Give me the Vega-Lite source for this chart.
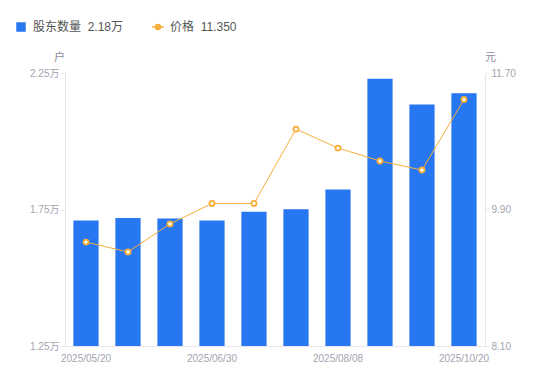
{
  "$schema": "https://vega.github.io/schema/vega-lite/v6.json",
  "width": 420,
  "height": 273,
  "autosize": {"type": "none"},
  "padding": {"left": 65, "top": 73, "right": 65, "bottom": 35},
  "background": "white",
  "config": {
    "view": {"stroke": null},
    "font": "Liberation Sans, Noto Sans CJK SC, sans-serif"
  },
  "data": {
    "values": [
      {"date": "2025/05/20", "holders": 1.710, "price": 9.47},
      {"date": "2025/05/31", "holders": 1.719, "price": 9.34},
      {"date": "2025/06/10", "holders": 1.717, "price": 9.71},
      {"date": "2025/06/30", "holders": 1.710, "price": 9.98},
      {"date": "2025/07/10", "holders": 1.742, "price": 9.98},
      {"date": "2025/07/31", "holders": 1.751, "price": 10.96},
      {"date": "2025/08/08", "holders": 1.823, "price": 10.71},
      {"date": "2025/08/31", "holders": 2.229, "price": 10.54},
      {"date": "2025/09/30", "holders": 2.135, "price": 10.42},
      {"date": "2025/10/20", "holders": 2.176, "price": 11.35}
    ]
  },
  "encoding": {
    "x": {
      "field": "date",
      "type": "ordinal",
      "sort": null,
      "scale": {"paddingInner": 0.4, "paddingOuter": 0.2},
      "axis": {
        "title": null,
        "labelAngle": 0,
        "values": ["2025/05/20", "2025/06/30", "2025/08/08", "2025/10/20"],
        "ticks": false,
        "labelPadding": 7,
        "labelFontSize": 10,
        "labelColor": "#A3A3B0",
        "domainColor": "#E6E6E6",
        "grid": false
      }
    }
  },
  "layer": [
    {
      "mark": {"type": "bar", "fill": "#2776F2", "clip": true},
      "encoding": {
        "y": {
          "field": "holders",
          "type": "quantitative",
          "scale": {"domain": [1.25, 2.25], "zero": false, "nice": false},
          "axis": {
            "orient": "left",
            "values": [1.25, 1.75, 2.25],
            "labelExpr": "format(datum.value, '.2f') + '万'",
            "labelFontSize": 10,
            "labelColor": "#A3A3B0",
            "labelPadding": 2,
            "tickSize": 4,
            "tickColor": "#E6E6E6",
            "domainColor": "#E6E6E6",
            "grid": false,
            "title": "户",
            "titleAngle": 0,
            "titleX": -6,
            "titleY": -16,
            "titleAlign": "center",
            "titleBaseline": "middle",
            "titleFontSize": 11,
            "titleFontWeight": "normal",
            "titleColor": "#8A8A96"
          }
        },
        "y2": {"datum": 1.25},
        "color": {
          "datum": "股东数量",
          "scale": {"domain": ["股东数量", "价格"], "range": ["#2776F2", "#F8AE3C"]},
          "legend": {
            "orient": "none",
            "legendX": -50,
            "legendY": -52,
            "direction": "horizontal",
            "title": null,
            "columnPadding": 24,
            "labelFontSize": 12,
            "labelColor": "#555555",
            "labelOffset": 6,
            "labelExpr": "datum.value === '价格' ? '价格\u00a0\u00a011.350' : '股东数量\u00a0\u00a02.18万'",
            "encode": {
              "symbols": {
                "update": {
                  "shape": {"signal": "datum.value === '价格' ? 'M-1,0H-0.42M0.42,0H1M-0.42,0A0.42,0.42 0 1 1 0.42,0A0.42,0.42 0 1 1 -0.42,0Z' : 'square'"},
                  "size": {"signal": "datum.value === '价格' ? 144 : 90"},
                  "fill": {"signal": "datum.value === '价格' ? 'white' : '#2776F2'"},
                  "stroke": {"signal": "datum.value === '价格' ? '#F8AE3C' : '#2776F2'"},
                  "strokeWidth": {"signal": "datum.value === '价格' ? 1.6 : 0"},
                  "opacity": {"value": 1}
                }
              }
            }
          }
        }
      }
    },
    {
      "layer": [
        {
          "mark": {"type": "line", "strokeWidth": 1},
          "encoding": {
            "y": {"field": "price", "type": "quantitative"},
            "color": {"datum": "价格"}
          }
        },
        {
          "mark": {"type": "point", "shape": "circle", "filled": true, "fill": "white", "stroke": "#F8AE3C", "strokeWidth": 1.8, "size": 26, "opacity": 1},
          "encoding": {
            "y": {"field": "price", "type": "quantitative"}
          }
        }
      ],
      "encoding": {
        "y": {
          "field": "price",
          "type": "quantitative",
          "scale": {"domain": [8.1, 11.7], "zero": false, "nice": false},
          "axis": {
            "orient": "right",
            "values": [8.1, 9.9, 11.7],
            "format": ".2f",
            "labelFontSize": 10,
            "labelColor": "#A3A3B0",
            "labelPadding": 2,
            "tickSize": 4,
            "tickColor": "#E6E6E6",
            "domainColor": "#E6E6E6",
            "grid": false,
            "title": "元",
            "titleAngle": 0,
            "titleX": 5,
            "titleY": -16,
            "titleAlign": "center",
            "titleBaseline": "middle",
            "titleFontSize": 11,
            "titleFontWeight": "normal",
            "titleColor": "#8A8A96"
          }
        }
      }
    }
  ],
  "resolve": {"scale": {"y": "independent"}}
}
